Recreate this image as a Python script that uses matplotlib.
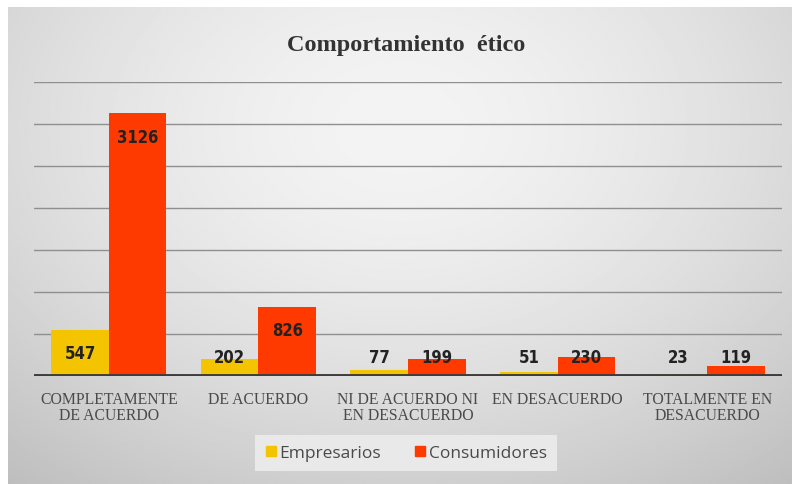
import numpy as np
import matplotlib
matplotlib.use("Agg")
import matplotlib.pyplot as plt
from matplotlib.lines import Line2D

categories = ["COMPLETAMENTE\nDE ACUERDO", "DE ACUERDO", "NI DE ACUERDO NI\nEN DESACUERDO",
              "EN DESACUERDO", "TOTALMENTE EN\nDESACUERDO"]
empresarios = [547, 202, 77, 51, 23]
consumidores = [3126, 826, 199, 230, 119]
series_names = ["Empresarios", "Consumidores"]
title = "Comportamiento  ético"

W, H = 792, 485
fig = plt.figure(figsize=(W / 100, H / 100), dpi=100, facecolor="white")

# gradient background panel
bg = fig.add_axes([8 / W, 0, 1 - 8 / W, 1 - 8 / H], zorder=0)
yy, xx = np.mgrid[0:1:300j, 0:1:500j]
r = np.sqrt(((xx - 0.5) / 0.75) ** 2 + ((yy - 0.25) / 0.9) ** 2)
vals = 0.955 - 0.19 * np.clip(r, 0, 1.2) ** 1.6
bg.imshow(vals, cmap="gray", vmin=0, vmax=1, aspect="auto", extent=[0, 1, 0, 1], origin="upper")
bg.axis("off")

ax = fig.add_axes([34 / W, (H - 377) / H, (782 - 34) / W, (377 - 83) / H], zorder=1)
ax.set_facecolor("none")
x = np.arange(len(categories))
w = 0.385
c_y = "#F5C400"
c_r = "#FF3A00"
ax.bar(x - w / 2, empresarios, w, color=c_y, zorder=3)
ax.bar(x + w / 2, consumidores, w, color=c_r, zorder=3)

ax.set_ylim(0, 3500)
ax.set_xlim(-0.5, len(categories) - 0.5)
ax.set_yticks(np.arange(0, 3501, 500))
ax.yaxis.grid(True, color="#8f8f8f", lw=1.0, zorder=1)
ax.tick_params(axis="y", left=False, labelleft=False)
ax.tick_params(axis="x", bottom=False, pad=7)
for s in ax.spines.values():
    s.set_visible(False)
ax.axhline(0, color="#3d3d3d", lw=2.8, zorder=4)

ax.set_xticks(x)
ax.set_xticklabels(categories, fontfamily="Liberation Serif", fontsize=11.3,
                   color="#4a4a4a", linespacing=1.05)

for xs, vs in ((x - w / 2, empresarios), (x + w / 2, consumidores)):
    for xi, v in zip(xs, vs):
        ly = max(v - 275, 230)
        ax.text(xi, ly, str(v), ha="center", va="center", fontsize=12,
                fontweight="bold", fontfamily="DejaVu Sans", fontstretch="condensed",
                color="#222222", zorder=5)

fig.text(406 / W, (H - 45) / H, title, ha="center", va="center",
         fontfamily="Liberation Serif", fontweight="bold", fontsize=17.5, color="#333333")

handles = [Line2D([], [], ls="none", marker="s", markersize=7, color=c) for c in (c_y, c_r)]
leg = fig.legend(handles, series_names, loc="center", bbox_to_anchor=(406 / W, (H - 454) / H),
                 ncol=2, frameon=True, fancybox=False, handlelength=0.7,
                 handletextpad=0.15, columnspacing=1.9, borderpad=0.55,
                 prop={"family": "Open Sans", "size": 12.5})
leg.get_frame().set_facecolor("#ececec")
leg.get_frame().set_edgecolor("none")
leg.get_frame().set_alpha(0.9)
for t in leg.get_texts():
    t.set_color("#4a4a4a")

fig.savefig("out.png", dpi=100, facecolor="white")
